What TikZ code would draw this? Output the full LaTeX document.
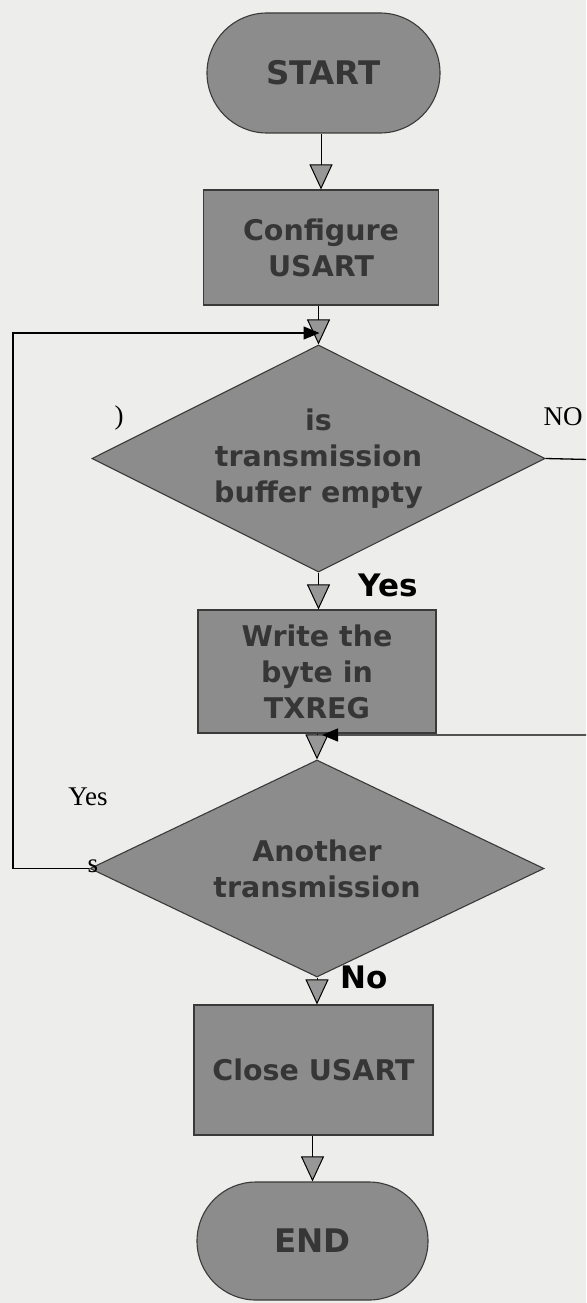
\documentclass[tikz,border=0pt]{standalone}
\usepackage{fontspec}
\setmainfont{Liberation Serif}
\newfontfamily\boxfont{DejaVu Sans}
\usetikzlibrary{shapes.geometric,shapes.misc,arrows.meta}

\definecolor{paper}{HTML}{EDEDEB}
\definecolor{shapefill}{HTML}{8C8C8C}
\definecolor{shapeline}{HTML}{3A3A3A}
\definecolor{shapetext}{HTML}{363636}
\definecolor{headfill}{HTML}{979797}

\tikzset{
  base/.style={draw=shapeline, fill=shapefill, line width=1.1pt, inner sep=0pt,
    align=center, text=shapetext, font=\boxfont\bfseries\fontsize{28.5}{36}\selectfont},
  terminal/.style={base, rounded rectangle, font=\boxfont\bfseries\fontsize{32.5}{38}\selectfont},
  process/.style={base, rectangle},
  decision/.style={base, diamond, aspect=2},
  flow/.style={draw=black, line width=1pt, -{Triangle[width=23pt,length=25pt,fill=headfill]}},
  back/.style={draw=black, line width=1.3pt, -{Triangle[width=13pt,length=16pt]}},
  branch/.style={font=\boxfont\bfseries\fontsize{31}{36}\selectfont, text=black, inner sep=0pt},
  side/.style={font=\fontsize{27}{30}\selectfont, text=black, inner sep=0pt},
}

\begin{document}
\begin{tikzpicture}[x=1pt,y=-1pt]
  % page
  \fill[paper] (0,0) rectangle (586,1303);
  \useasboundingbox (0,0) rectangle (586,1303);
  \clip (0,0) rectangle (586,1303);

  % flowchart blocks
  \node[terminal, minimum width=233pt, minimum height=120pt] (start) at (323.5,73) {START};
  \node[process, minimum width=235pt, minimum height=115pt] (conf) at (321,247.5) {Configure\\USART};
  \node[decision, minimum width=453pt, minimum height=227pt] (test) at (318.5,458.5) {is\\transmission\\buffer empty};
  \node[process, minimum width=238pt, minimum height=123pt] (write) at (317,671.5) {Write the\\byte in\\TXREG};
  \node[decision, minimum width=454pt, minimum height=217pt] (again) at (317,868.5) {Another\\transmission};
  \node[process, minimum width=239pt, minimum height=130pt] (close) at (313.5,1070) {Close USART};
  \node[terminal, minimum width=231pt, minimum height=118pt] (end) at (312.5,1241) {END};

  % main flow, kept vertical
  \draw[flow] (conf.north |- start.south) -- (conf.north);
  \draw[flow] (test.north |- conf.south) -- (test.north);
  \draw[flow] (test.south) -- (test.south |- write.north);
  \draw[flow] (again.north |- write.south) -- (again.north);
  \draw[flow] (again.south) -- (again.south |- close.north);
  \draw[flow] (end.north |- close.south) -- (end.north);

  % loops back into the main line
  \coordinate (topjoin) at (319.5,333);
  \coordinate (midjoin) at (322,735);
  \draw[back] (again.west) -- (13,868.5) |- (topjoin);
  \draw[back] (test.east) -- (610,460) |- (midjoin);

  % branch labels
  \node[branch] (yes1) at (388,585) {Yes};
  \node[branch] (no2) at (364,977.5) {No};
  \node[side] (nolab) at (563,417) {NO};
  \node[side] (yeslab) at (88,797) {Yes};
  \node[side] (mark1) at (119,418) {)};
  \node[side] (mark2) at (93,866) {s};
\end{tikzpicture}
\end{document}
